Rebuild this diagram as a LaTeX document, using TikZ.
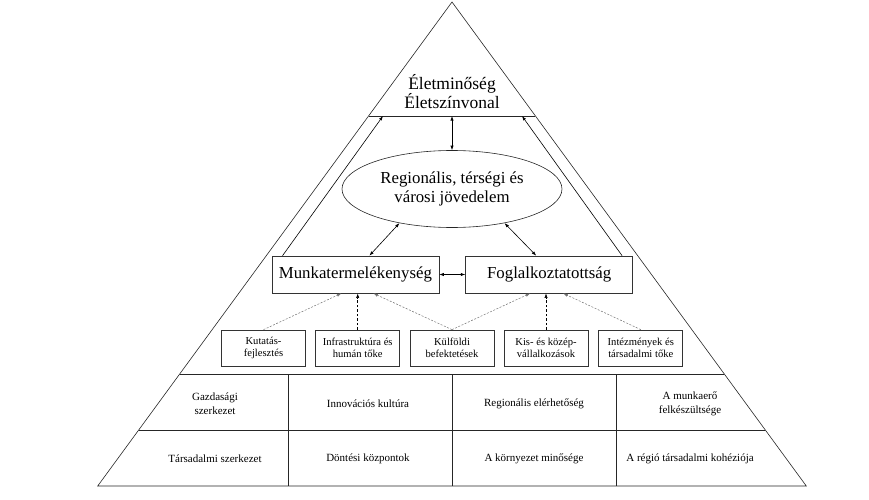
\documentclass[tikz,border=0pt]{standalone}
\usepackage{fontspec}
\setmainfont{Liberation Serif}
\usetikzlibrary{shapes.geometric,arrows.meta,calc}

\begin{document}
\begin{tikzpicture}[x=1pt,y=-1pt,
 >={Latex[length=4.5pt,width=3.2pt]},
 edge/.style={draw=black!85, line width=.6pt},
 bigbox/.style={draw=black!80, line width=.7pt, minimum width=167pt, minimum height=37pt, inner sep=0pt, font=\fontsize{16.8}{19}\selectfont},
 smallbox/.style={draw=black!80, line width=.7pt, minimum width=84pt, minimum height=36pt, inner sep=0pt, align=center, font=\fontsize{10.6}{12.2}\selectfont},
 cell/.style={align=center, font=\fontsize{11}{14.3}\selectfont},
 both/.style={<->, line width=.6pt},
 up/.style={->, line width=.6pt},
 blackdash/.style={->, line width=.6pt, dash pattern=on 2.5pt off 2pt},
 greydash/.style={->, line width=.5pt, draw=black!55, dash pattern=on 2pt off 1.5pt}]

\useasboundingbox (0,0) rectangle (869,500);

% the pyramid
\coordinate (top) at (452,2);
\coordinate (bl) at (97.7,486);
\coordinate (br) at (806.3,486);
\draw[edge] (top) -- (bl) -- (br) -- cycle;

\draw[edge] ($(top)!.2355!(bl)$) -- ($(top)!.2355!(br)$);
\draw[edge] ($(top)!.7686!(bl)$) -- ($(top)!.7686!(br)$);
\draw[edge] ($(top)!.8843!(bl)$) -- ($(top)!.8843!(br)$);
\draw[edge] (288.3,374) -- (288.3,486);
\draw[edge] (452,374) -- (452,486);
\draw[edge] (616.7,374) -- (616.7,486);

% where the arrows meet the top line
\coordinate (qm) at (452,116);
\coordinate (ql) at (383,116);
\coordinate (qr) at (522,116);

\node [align=center, font=\fontsize{17.5}{19}\selectfont] (life) at (452,92) {Életminőség\\Életszínvonal};

\node [draw=black!85, line width=.6pt, ellipse, minimum width=220pt, minimum height=77pt, inner sep=0pt, align=center, font=\fontsize{16.8}{18.5}\selectfont] (income) at (452,189) {Regionális, térségi és\\városi jövedelem};

\node [bigbox] (munka) at (355.4,274.5) {Munkatermelékenység};
\node [bigbox] (fogl) at (549.2,274.5) {Foglalkoztatottság};

\node [smallbox] (kut) at (263.5,348) {Kutatás-\\fejlesztés};
\node [smallbox] (infra) at (357.7,348) {Infrastruktúra és\\humán tőke};
\node [smallbox] (kulf) at (452,348) {Külföldi\\befektetések};
\node [smallbox] (kkv) at (546,348) {Kis- és közép-\\vállalkozások};
\node [smallbox] (intez) at (640.8,348) {Intézmények és\\társadalmi tőke};

\draw[both] (income) -- (qm);
\draw[both] ([xshift=14pt]munka.north) -- (income.213);
\draw[both] ([xshift=-13pt]fogl.north) -- (income.327);
\draw[both] (munka) -- (fogl);
\draw[up] ([xshift=11pt]munka.north west) -- (ql);
\draw[up] ([xshift=-11pt]fogl.north east) -- (qr);

\draw[greydash] (kut.north) -- ([xshift=-14pt]munka.south);
\draw[blackdash] (infra.north) -- (infra.north |- munka.south);
\draw[greydash] (kulf.north) -- ([xshift=18pt]munka.south);
\draw[greydash] (kulf.north) -- ([xshift=-19pt]fogl.south);
\draw[blackdash] (kkv.north) -- (kkv.north |- fogl.south);
\draw[greydash] (intez.north) -- ([xshift=14pt]fogl.south);

% lower part
\node [cell] (c11) at (215,404) {Gazdasági\\szerkezet};
\node [cell] (c12) at (368,404) {Innovációs kultúra};
\node [cell] (c13) at (534,404) {Regionális elérhetőség};
\node [cell] (c14) at (690,404) {A munkaerő\\felkészültsége};
\node [cell] (c21) at (215,459) {Társadalmi szerkezet};
\node [cell] (c22) at (368,459) {Döntési központok};
\node [cell] (c23) at (534,459) {A környezet minősége};
\node [cell] (c24) at (690,459) {A régió társadalmi kohéziója};
\end{tikzpicture}
\end{document}
